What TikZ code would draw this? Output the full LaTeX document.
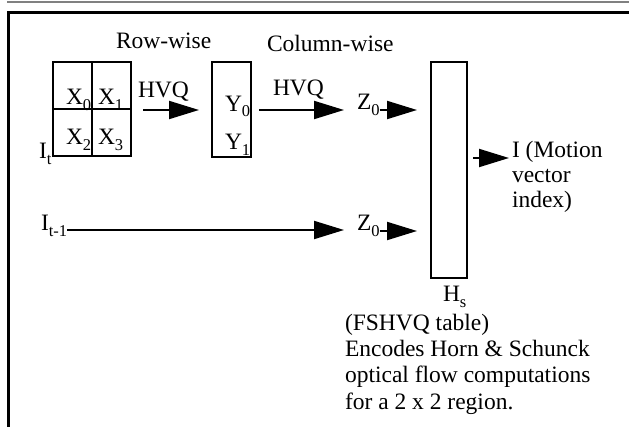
\documentclass[tikz,border=0pt]{standalone}
\usepackage{fontspec}
\setmainfont{Liberation Serif}
\usetikzlibrary{arrows.meta,calc}
\newcommand{\mysub}[1]{\raisebox{-5.5pt}{\fontsize{16.5}{16.5}\selectfont #1}}
\begin{document}
\begin{tikzpicture}[x=1pt,y=-1pt,
  every node/.style={inner sep=0pt, outer sep=0pt, font=\fontsize{23.5}{25}\selectfont},
  lbl/.style={anchor=base west},
  box/.style={draw, line width=2pt},
  conn/.style={line width=2pt, -{Triangle[length=30pt,width=18pt]}},
  plain/.style={line width=2pt}]
\useasboundingbox (0,0) rectangle (629,427);
% frame
\draw[gray, line width=1.5pt] (7,2) -- (629,2);
\draw[line width=3pt] (629,13) -- (8.5,13) -- (8.5,427);
% 2x2 grid
\node[box, minimum width=78pt, minimum height=94pt] (grid) at (92,109) {};
\draw[box] (grid.north) -- (grid.south);
\draw[box] (grid.west) -- (grid.east);
\node[lbl] (x0) at (66,105) {X\mysub{0}};
\node[lbl] (x1) at (98,105) {X\mysub{1}};
\node[lbl] (x2) at (66,145) {X\mysub{2}};
\node[lbl] (x3) at (98,145) {X\mysub{3}};
\node[lbl] (it) at (39,159) {I\mysub{t}};
% Y box
\node[box, minimum width=39pt, minimum height=95pt] (ybox) at (231.5,110) {};
\node[lbl] (y0) at (225,111.5) {Y\mysub{0}};
\node[lbl] (y1) at (225,150) {Y\mysub{1}};
% headings
\node[lbl] (row) at (116,49) {Row-wise};
\node[lbl] (col) at (267,52) {Column-wise};
\node[lbl] (hvq1) at (138,98) {HVQ};
\node[lbl] (hvq2) at (273,96) {HVQ};
% Z labels
\node[lbl] (z0a) at (357,110) {Z\mysub{0}};
\node[lbl] (z0b) at (357,231) {Z\mysub{0}};
\node[lbl] (im1) at (41,231) {I\mysub{t-1}};
% Hs box
\node[box, minimum width=36pt, minimum height=216pt] (hs) at (449,170) {};
\node[lbl] (hsl) at (443,302) {H\mysub{s}};
% output text
\node[lbl] (out1) at (512,158) {I (Motion};
\node[lbl] (out2) at (512,183) {vector};
\node[lbl] (out3) at (512,208) {index)};
% description
\node[lbl] (d1) at (345,331) {(FSHVQ table)};
\node[lbl] (d2) at (345,357) {Encodes Horn \& Schunck};
\node[lbl] (d3) at (345,383) {optical flow computations};
\node[lbl] (d4) at (345,409) {for a 2 x 2 region.};
% connectors
\draw[conn] ([xshift=12pt,yshift=-1pt]grid.east) -- ([xshift=-13pt]ybox.west);
\draw[conn] ([xshift=8pt]ybox.east) -- ($(z0a.base west)+(-13,0)$);
\draw[conn] (z0a.base east) -- ($(hs.west |- z0a.base)+(-14,0)$);
\draw[conn] ($(im1.base east)+(0,-1)$) -- ($(z0b.base west)+(-13,-1)$);
\draw[conn] (z0b.base east) -- ($(hs.west |- z0b.base)+(-14,0)$);
\draw[conn] ($(hs.east |- out1.base)+(6,0)$) -- ($(out1.base west)+(-3,0)$);
\end{tikzpicture}
\end{document}
